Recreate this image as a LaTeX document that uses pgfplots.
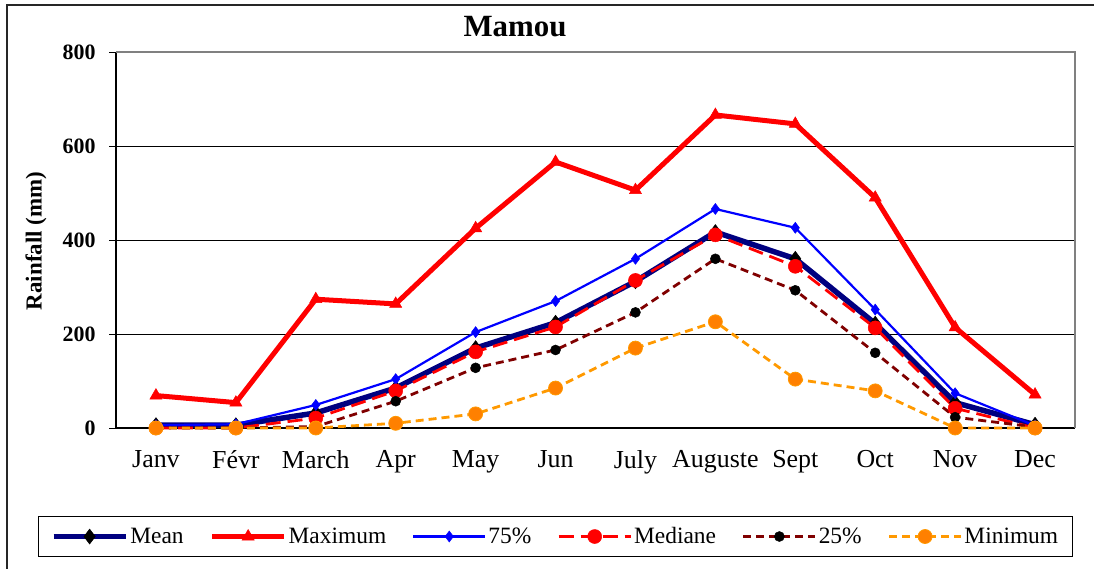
\documentclass[border=0pt]{standalone}
\usepackage{pgfplots}
\pgfplotsset{compat=1.18}
\usepackage{fontspec}
\setmainfont{Liberation Serif}
\definecolor{navyline}{HTML}{000080}
\definecolor{maroonline}{HTML}{800000}
\definecolor{orangeline}{HTML}{FF9900}
\definecolor{orangemark}{HTML}{FF8000}
\definecolor{framegray}{HTML}{808080}

\begin{document}
\begin{tikzpicture}
\begin{axis}[
    at={(116bp,141bp)}, anchor=south west,
    scale only axis,
    width=959bp, height=376bp,
    xmin=0.5, xmax=12.5,
    ymin=0, ymax=800,
    xtick={1,...,12},
    xticklabels={Janv,Févr,March,Apr,May,Jun,July,Auguste,Sept,Oct,Nov,Dec},
    x tick style={draw=none},
    extra x ticks={0.5,1.5,...,12.5},
    extra x tick labels={},
    extra x tick style={tick align=outside, major tick length=8bp,
        tick style={draw=black, line width=1bp}, grid=none},
    ytick={0,200,...,800},
    tick align=outside,
    major tick length=7bp,
    y tick style={black, line width=1bp},
    ymajorgrids,
    grid style={black, line width=0.9bp},
    axis x line*=bottom, axis y line*=left,
    axis line style={black, line width=1.3bp, -},
    xticklabel style={font=\fontsize{26}{31}\selectfont, yshift=-12bp},
    yticklabel style={font=\fontsize{22}{26}\selectfont\bfseries, xshift=-10bp},
    /pgf/number format/assume math mode=true,
    clip=false,
    legend columns=6,
    legend style={at={(0.4583,-0.2886)}, anchor=center, draw=black,
        line width=1bp, font=\fontsize{23.5}{28}\selectfont,
        inner xsep=12bp, inner ysep=9bp,
        /tikz/every even column/.append style={column sep=24bp}},
    legend image code/.code={\draw[mark repeat=2,mark phase=2,#1]
        plot coordinates {(0bp,0bp) (36bp,0bp) (72bp,0bp)};},
]

% Mean
\addplot[navyline, line width=5.5bp, mark=diamond*, mark size=7.5bp,
    mark options={solid, fill=black, draw=black, line width=0.5bp}] coordinates {
    (1,6) (2,6) (3,32) (4,85) (5,170) (6,224) (7,312) (8,417) (9,360) (10,222) (11,54) (12,7)
};
\addlegendentry{Mean}

% Maximum
\addplot[red, line width=5bp, mark=triangle*, mark size=7bp,
    mark options={solid, fill=red, draw=red, line width=0.5bp}] coordinates {
    (1,69) (2,54) (3,274) (4,264) (5,425) (6,566) (7,506) (8,666) (9,647) (10,490) (11,214) (12,71)
};
\addlegendentry{Maximum}

% 75 %
\addplot[blue, line width=2.2bp, mark=diamond*, mark size=5.5bp,
    mark options={solid, fill=blue, draw=blue, line width=0.5bp}] coordinates {
    (1,6) (2,8) (3,49) (4,104) (5,204) (6,270) (7,360) (8,466) (9,426) (10,252) (11,74) (12,5)
};
\addlegendentry{75\%}

% Mediane
\addplot[red, line width=2.8bp, dash pattern=on 15bp off 7bp, mark=*, mark size=7bp,
    mark options={solid, fill=red, draw=red, line width=0.5bp}] coordinates {
    (1,0) (2,0) (3,21) (4,79) (5,162) (6,215) (7,314) (8,411) (9,344) (10,213) (11,42) (12,0)
};
\addlegendentry{Mediane}

% 25 %
\addplot[maroonline, line width=2.8bp, dash pattern=on 8bp off 5bp, mark=*, mark size=5bp,
    mark options={solid, fill=black, draw=black, line width=0.5bp}] coordinates {
    (1,0) (2,0) (3,3) (4,57) (5,128) (6,166) (7,246) (8,360) (9,293) (10,160) (11,23) (12,2)
};
\addlegendentry{25\%}

% Minimum
\addplot[orangeline, line width=2.8bp, dash pattern=on 8bp off 5bp, mark=*, mark size=7bp,
    mark options={solid, fill=orangemark, draw=orangeline, line width=0.8bp}] coordinates {
    (1,0) (2,0) (3,0) (4,10) (5,30) (6,85) (7,170) (8,226) (9,104) (10,79) (11,0) (12,0)
};
\addlegendentry{Minimum}

% grey top and right frame of the plot area
\draw[framegray, line width=2bp] (rel axis cs:0,1) -- (rel axis cs:1,1) -- (rel axis cs:1,0);
\end{axis}

% chart title and axis label
\node[font=\fontsize{31}{36}\selectfont\bfseries] at (515bp,542bp) {Mamou};
\node[font=\fontsize{23}{27}\selectfont\bfseries, rotate=90] at (36bp,328bp) {Rainfall (mm)};

% outer frame (left and top edges are in view)
\draw[black!85, line width=1.5bp] (7bp,-5bp) -- (7bp,564bp) -- (1100bp,564bp);

\pgfresetboundingbox
\path[use as bounding box] (0,0) rectangle (1094bp,569bp);
\end{tikzpicture}
\end{document}
